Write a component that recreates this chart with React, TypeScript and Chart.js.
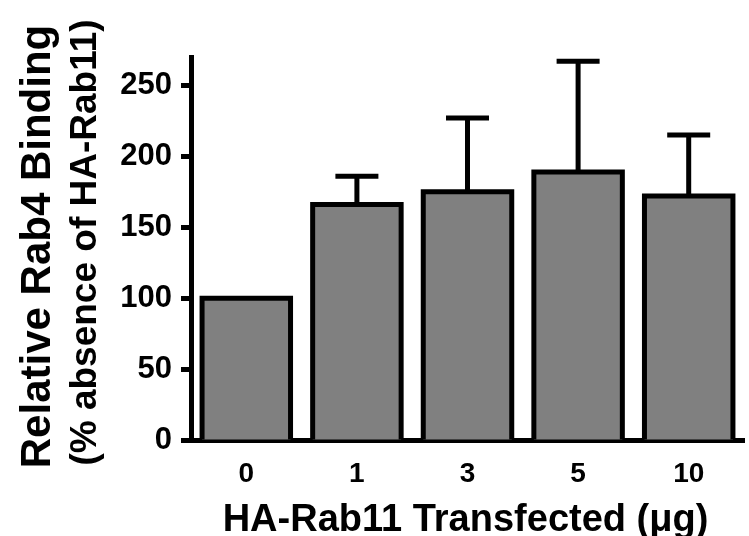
import React, { useEffect, useRef } from "react";
import { Chart, registerables } from "chart.js";

Chart.register(...registerables);

// Plasmid amounts (µg) and relative binding values (% of control)
const doses = ["0", "1", "3", "5", "10"];
const binding = [100, 166, 175, 189, 172];
const bindingErr = [0, 20, 52, 78, 43];
const yTickValues = [0, 50, 100, 150, 200, 250];

const FONT = "'Liberation Sans', Arial, Helvetica, sans-serif";
const LINE = 5;

// Outline each bar with a stroke centred on its edges (open at the base)
const barOutline = {
  id: "barOutline",
  afterDatasetsDraw(chart: any) {
    const ctx = chart.ctx;
    const meta = chart.getDatasetMeta(0);
    ctx.save();
    ctx.strokeStyle = "#000";
    ctx.lineWidth = LINE;
    ctx.lineJoin = "miter";
    meta.data.forEach((el: any) => {
      const p = el.getProps(["x", "y", "base", "width"], true);
      const l = p.x - p.width / 2;
      const r = p.x + p.width / 2;
      ctx.beginPath();
      ctx.moveTo(l, p.base);
      ctx.lineTo(l, p.y);
      ctx.lineTo(r, p.y);
      ctx.lineTo(r, p.base);
      ctx.stroke();
    });
    ctx.restore();
  },
};

// Upper error bars with a flat cap
const errorBars = {
  id: "errorBars",
  afterDatasetsDraw(chart: any) {
    const ctx = chart.ctx;
    const yScale = chart.scales.y;
    const meta = chart.getDatasetMeta(0);
    ctx.save();
    ctx.strokeStyle = "#000";
    ctx.lineWidth = LINE;
    ctx.lineCap = "butt";
    meta.data.forEach((el: any, i: number) => {
      const err = bindingErr[i];
      if (!err) return;
      const p = el.getProps(["x", "y"], true);
      const yTop = yScale.getPixelForValue(binding[i] + err);
      ctx.beginPath();
      ctx.moveTo(p.x, p.y);
      ctx.lineTo(p.x, yTop);
      ctx.moveTo(p.x - 21.5, yTop);
      ctx.lineTo(p.x + 21.5, yTop);
      ctx.stroke();
    });
    ctx.restore();
  },
};

// Axis titles
const axisTitles = {
  id: "axisTitles",
  afterDraw(chart: any) {
    const ctx = chart.ctx;
    const area = chart.chartArea;
    const midY = (area.top + area.bottom) / 2;
    ctx.save();
    ctx.fillStyle = "#000";
    ctx.textAlign = "center";
    ctx.textBaseline = "alphabetic";

    ctx.font = `bold 38px ${FONT}`;
    ctx.fillText("HA-Rab11 Transfected (μg)", (area.left + area.right) / 2 - 2, 531);

    ctx.save();
    ctx.translate(50, midY - 2);
    ctx.rotate(-Math.PI / 2);
    ctx.font = `bold 42px ${FONT}`;
    ctx.fillText("Relative Rab4 Binding", 0, 0);
    ctx.restore();

    ctx.save();
    ctx.translate(96, midY - 6);
    ctx.rotate(-Math.PI / 2);
    ctx.font = `bold 37px ${FONT}`;
    ctx.fillText("(% absence of HA-Rab11)", 0, 0);
    ctx.restore();

    ctx.restore();
  },
};

export default function App() {
  const canvasRef = useRef<HTMLCanvasElement | null>(null);

  useEffect(() => {
    document.body.style.margin = "0";
    const canvas = canvasRef.current;
    if (!canvas) return;
    const chart = new Chart(canvas, {
      type: "bar",
      data: {
        labels: doses,
        datasets: [
          {
            data: binding,
            backgroundColor: "#808080",
            borderWidth: 0,
            barPercentage: 0.8,
            categoryPercentage: 1,
          },
        ],
      },
      options: {
        responsive: false,
        animation: false,
        events: [],
        layout: { padding: { top: 57, right: 5, left: 0, bottom: 0 } },
        plugins: {
          legend: { display: false },
          tooltip: { enabled: false },
          title: { display: false },
        },
        scales: {
          x: {
            z: 1,
            offset: true,
            grid: { display: false, drawTicks: false },
            border: { display: true, color: "#000", width: LINE },
            ticks: {
              color: "#000",
              padding: 17,
              font: { family: FONT, size: 28, weight: "bold" },
            },
            afterFit(scale: any) {
              scale.height = 96;
            },
          },
          y: {
            z: 1,
            min: 0,
            max: 270,
            afterBuildTicks(scale: any) {
              scale.ticks = yTickValues.map((v) => ({ value: v }));
            },
            grid: {
              display: true,
              drawOnChartArea: false,
              drawTicks: true,
              tickLength: 10,
              tickWidth: LINE,
              tickColor: "#000",
              color: "#000",
            },
            border: { display: true, color: "#000", width: LINE },
            ticks: {
              color: "#000",
              padding: 9,
              font: { family: FONT, size: 31, weight: "bold" },
            },
            afterFit(scale: any) {
              scale.width = 191;
            },
          },
        },
      },
      plugins: [barOutline, errorBars, axisTitles],
    });
    return () => chart.destroy();
  }, []);

  return (
    <div style={{ width: 749, height: 536, background: "#fff" }}>
      <canvas ref={canvasRef} width={749} height={536} />
    </div>
  );
}
